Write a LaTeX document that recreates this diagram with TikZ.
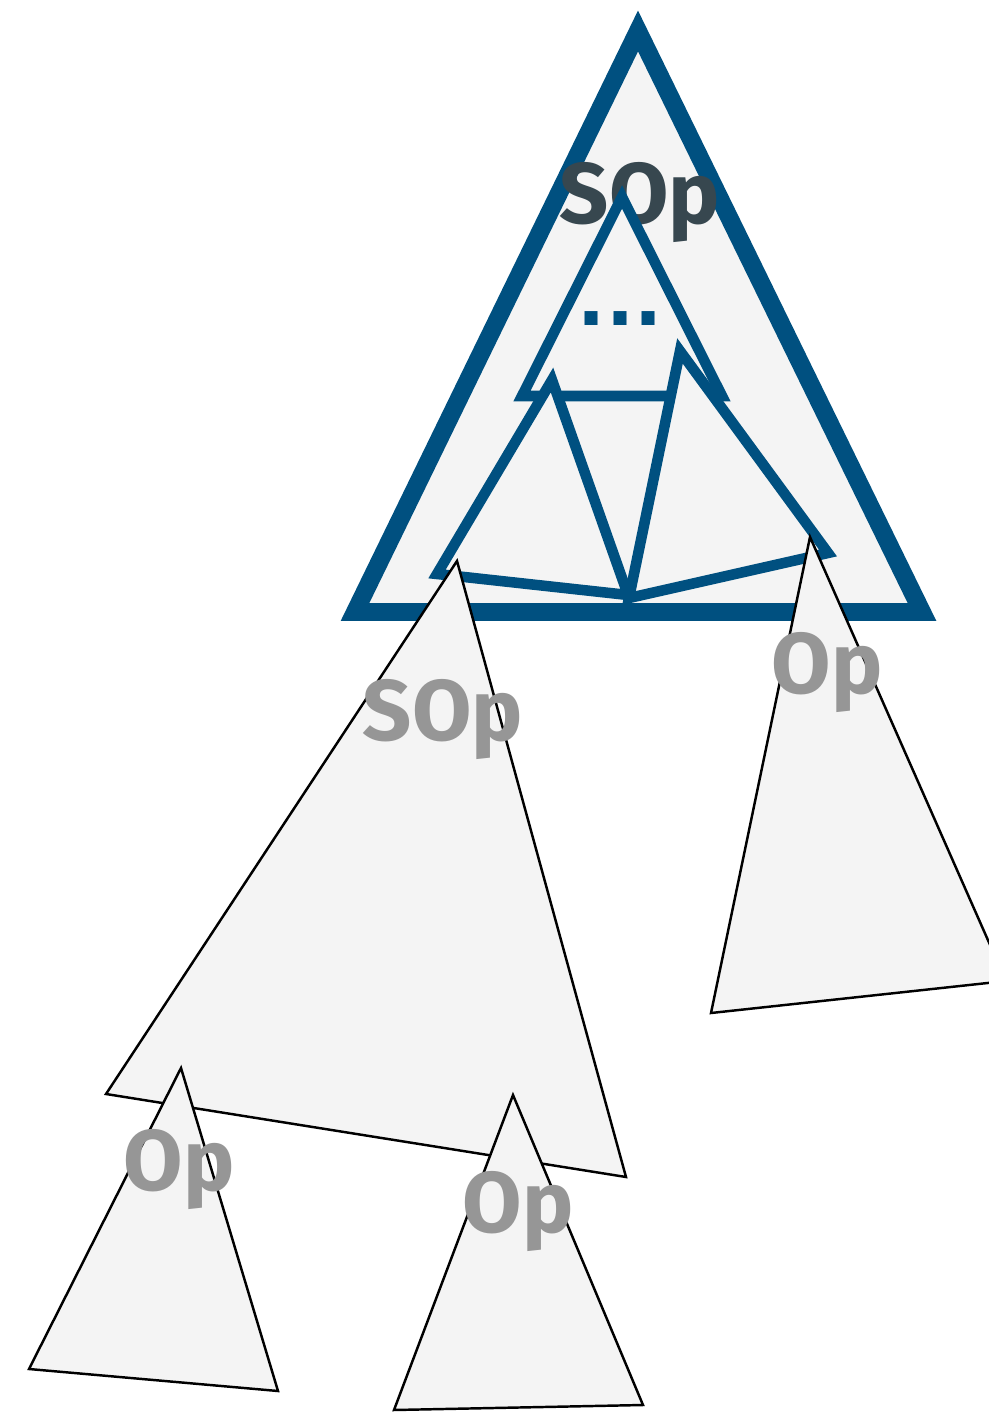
\documentclass[tikz,border=0pt]{standalone}
\usepackage{fontspec}
\setmainfont{Fira Sans}
\newfontfamily\dotfont{DejaVu Sans}
\usepackage{xcolor}
\usepackage{tikz}
\usetikzlibrary{positioning}
\definecolor{opblue}{RGB}{0,80,128}
\definecolor{opfill}{RGB}{244,244,244}
\definecolor{opgray}{RGB}{150,150,150}
\definecolor{opdark}{RGB}{55,71,79}
\newcommand{\oplabelfont}{\fontsize{49}{58}\selectfont\bfseries}
\tikzset{
  outer tri/.style={draw=opblue, line width=10.2pt, fill=opfill},
  inner tri/.style={draw=opblue, line width=6pt, fill=opfill},
  sub tri/.style={draw=black, line width=1.4pt, fill=opfill},
  top label/.style={font=\oplabelfont, text=opdark, anchor=base, inner sep=0pt},
  op label/.style={font=\oplabelfont, text=opgray, anchor=base, inner sep=0pt},
}
\begin{document}
\begin{tikzpicture}[x=0.02cm, y=-0.02cm]
  \clip (0,0) rectangle (989,1412);
  \fill[white] (0,0) rectangle (989,1412);
  % collapsed SOp with its inner trees
  \draw[outer tri] (638,31) -- (355,612) -- (922,612) -- cycle;
  \node[top label] (sopTop) at (640,224) {SOp};
  \draw[inner tri] (622,197) -- (522,396) -- (722,396) -- cycle;
  \node[font=\dotfont\fontsize{42}{50}\selectfont\bfseries, text=opblue, anchor=base, inner sep=0pt] (dots) at (620,325) {...};
  \draw[inner tri] (552,380) -- (437,574) -- (628,595) -- cycle;
  \draw[inner tri] (680,351) -- (629,598) -- (828,553) -- cycle;
  % expanded subtrees
  \draw[sub tri] (457,561) -- (106,1094) -- (626,1177) -- cycle;
  \draw[sub tri] (810,537) -- (711,1013) -- (1006,981) -- cycle;
  \draw[sub tri] (181,1068) -- (29,1369) -- (278,1391) -- cycle;
  \draw[sub tri] (513,1095) -- (394,1410) -- (643,1405) -- cycle;
  \node[op label] (sopLeft) at (443,740) {SOp};
  \node[op label] (opRight) at (827,693) {Op};
  \node[op label] (opLeft) at (179,1190) {Op};
  \node[op label] (opMid) at (518,1232) {Op};
\end{tikzpicture}
\end{document}
